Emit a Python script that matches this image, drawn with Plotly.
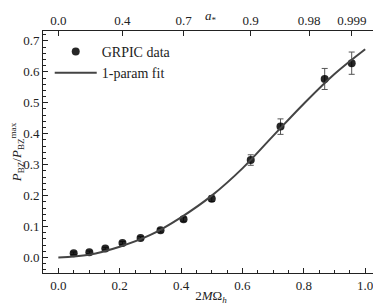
import numpy as np
import plotly.graph_objects as go

# GRPIC data
omega_data = [0.050, 0.101, 0.153, 0.209, 0.268, 0.333, 0.408, 0.500, 0.627, 0.724, 0.868, 0.956]
p_data = [0.014, 0.017, 0.029, 0.047, 0.063, 0.088, 0.124, 0.190, 0.315, 0.423, 0.577, 0.628]
p_err = [0.004, 0.004, 0.004, 0.005, 0.005, 0.006, 0.007, 0.009, 0.017, 0.025, 0.034, 0.036]

# 1-param fit
omega_fit = [0.0, 0.1, 0.2, 0.3, 0.4, 0.5, 0.6, 0.7, 0.8, 0.9, 1.0]
p_fit = [0.0, 0.009, 0.035, 0.073, 0.130, 0.200, 0.288, 0.393, 0.497, 0.593, 0.673]

# top axis: spin values
spin_ticks = [0.0, 0.4, 0.7, 0.9, 0.98, 0.999]
spin_labels = ["0.0", "0.4", "0.7", "0.9", "0.98", "0.999"]
spin_pos = [a / (1 + np.sqrt(1 - a * a)) for a in spin_ticks]

font = dict(family="Liberation Serif, DejaVu Serif, serif", size=13, color="#222")
axcol = "#222"

fig = go.Figure()
fig.add_trace(go.Scatter(
    x=omega_data, y=p_data, mode="markers", name="GRPIC data",
    marker=dict(size=8, color="rgba(0,0,0,0.85)"),
    error_y=dict(type="data", array=p_err, color="#555", thickness=1, width=3),
))
fig.add_trace(go.Scatter(
    x=omega_fit, y=p_fit, mode="lines", name="1-param fit",
    line=dict(color="#444", width=2, shape="spline"),
))
# dummy trace for top axis
fig.add_trace(go.Scatter(x=[0], y=[0], xaxis="x2", mode="markers",
                         marker=dict(opacity=0), showlegend=False, hoverinfo="skip"))

xr = [-0.05, 1.045]
# page body has an 8px margin: figure is shrunk/shifted to compensate
fig.update_layout(
    width=373, height=297,
    margin=dict(l=35, r=2, t=23, b=32, autoexpand=False),
    paper_bgcolor="white", plot_bgcolor="white",
    font=font,
    showlegend=True,
    legend=dict(x=0.02, y=0.98, xanchor="left", yanchor="top",
                bgcolor="rgba(0,0,0,0)", font=dict(size=14), itemwidth=42,
                tracegroupgap=0),
    xaxis=dict(
        range=xr, showgrid=False, zeroline=False,
        showline=True, linecolor=axcol, linewidth=1, mirror=False,
        ticks="inside", ticklen=5, tickcolor=axcol,
        tickvals=[0.0, 0.2, 0.4, 0.6, 0.8, 1.0],
        ticktext=["0.0", "0.2", "0.4", "0.6", "0.8", "1.0"],
        minor=dict(ticks="inside", ticklen=3, dtick=0.05, tick0=0, tickcolor=axcol),
        title=dict(text="2<i>M</i>Ω<sub><i>h</i></sub>", standoff=0, font=dict(size=13)),
    ),
    xaxis2=dict(
        range=xr, overlaying="x", side="top", showgrid=False, zeroline=False,
        showline=True, linecolor=axcol, linewidth=1,
        ticks="inside", ticklen=5, tickcolor=axcol,
        tickvals=spin_pos, ticktext=spin_labels,
    ),
    yaxis=dict(
        range=[-0.05, 0.732], showgrid=False, zeroline=False,
        showline=True, linecolor=axcol, linewidth=1, mirror=True,
        ticks="inside", ticklen=5, tickcolor=axcol,
        tickvals=[0.0, 0.1, 0.2, 0.3, 0.4, 0.5, 0.6, 0.7],
        ticktext=["0.0", "0.1", "0.2", "0.3", "0.4", "0.5", "0.6", "0.7"],
        minor=dict(ticks="inside", ticklen=3, dtick=0.02, tick0=0, tickcolor=axcol),
        title=dict(text="<i>P</i><sub>BZ</sub>/<i>P</i><sub>BZ</sub><sup>max</sup>",
                   standoff=2, font=dict(size=13)),
    ),
    annotations=[dict(text="<i>a</i><sub>*</sub>", xref="paper", yref="paper",
                      x=0.5, y=1, yshift=15, showarrow=False,
                      xanchor="center", yanchor="middle", font=dict(size=13))],
)
fig.write_html("out.html")
